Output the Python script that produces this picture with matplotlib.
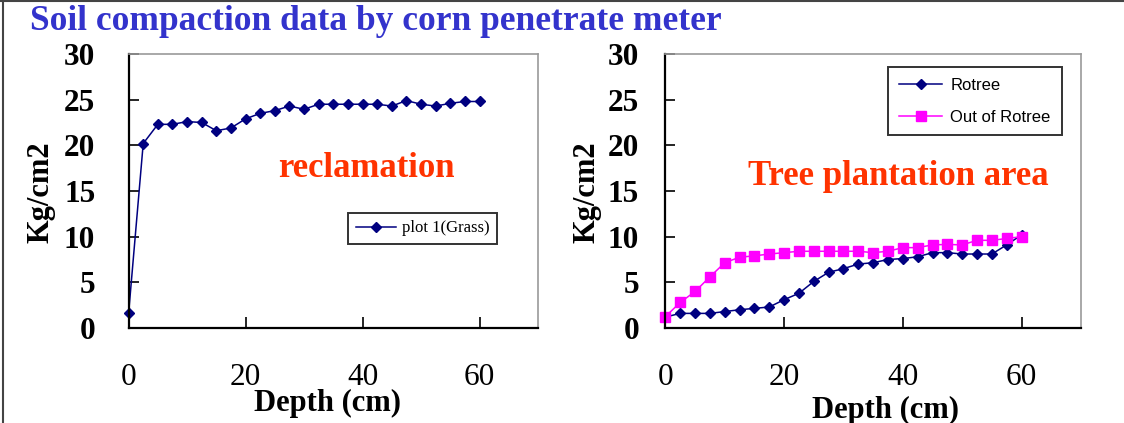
import matplotlib.pyplot as plt
from matplotlib.lines import Line2D

# depth in cm, measured every 2.5 cm
depth = [0, 2.5, 5, 7.5, 10, 12.5, 15, 17.5, 20, 22.5, 25, 27.5, 30,
         32.5, 35, 37.5, 40, 42.5, 45, 47.5, 50, 52.5, 55, 57.5, 60]

grass = [1.6, 20.2, 22.3, 22.3, 22.6, 22.5, 21.6, 21.9, 22.9, 23.5, 23.8, 24.3, 23.95,
         24.5, 24.5, 24.5, 24.5, 24.5, 24.3, 24.9, 24.5, 24.3, 24.6, 24.8, 24.8]

rotree = [1.2, 1.6, 1.6, 1.6, 1.8, 2.0, 2.15, 2.3, 3.1, 3.8, 5.1, 6.1, 6.5,
          7.0, 7.15, 7.5, 7.6, 7.8, 8.25, 8.25, 8.1, 8.1, 8.1, 9.1, 10.2]

out_rotree = [1.25, 2.8, 4.0, 5.6, 7.15, 7.75, 7.9, 8.1, 8.25, 8.4, 8.4, 8.4, 8.4,
              8.4, 8.25, 8.4, 8.8, 8.8, 9.1, 9.15, 9.1, 9.6, 9.6, 9.8, 10.0]

xticks = [0, 20, 40, 60]
yticks = [0, 5, 10, 15, 20, 25, 30]

W, H = 1124, 423
SERIF = 'Liberation Serif'
NAVY = '#000080'
MAGENTA = '#ff00ff'
ORANGE = '#ff3300'


def style_axes(ax, ypad):
    ax.set_xlim(0, 70)
    ax.set_ylim(0, 30)
    ax.set_xticks(xticks)
    ax.set_yticks(yticks)
    for s in ['left', 'bottom']:
        ax.spines[s].set_color('black')
        ax.spines[s].set_linewidth(1.6)
    for s in ['top', 'right']:
        ax.spines[s].set_color('#999999')
        ax.spines[s].set_linewidth(1.2)
    ax.tick_params(axis='x', direction='in', length=8, width=1.2, pad=25,
                   top=False)
    ax.tick_params(axis='y', direction='in', length=7, width=1.2, pad=ypad,
                   right=False)
    for lab in ax.get_xticklabels():
        lab.set_fontfamily(SERIF)
        lab.set_fontsize(22.5)
    for lab in ax.get_yticklabels():
        lab.set_fontfamily(SERIF)
        lab.set_fontsize(22.5)
        lab.set_fontweight('bold')


fig = plt.figure(figsize=(W / 100, H / 100), dpi=100)

ax1 = fig.add_axes([128.6 / W, (H - 328) / H, 409.4 / W, 274 / H])
ax2 = fig.add_axes([665.4 / W, (H - 328) / H, 415.5 / W, 274 / H])

ax1.plot(depth, grass, color=NAVY, lw=1.1, marker='D', ms=5.5,
         label='plot 1(Grass)', clip_on=False)
ax2.plot(depth, rotree, color=NAVY, lw=1.1, marker='D', ms=5.5,
         label='Rotree', clip_on=False)
ax2.plot(depth, out_rotree, color=MAGENTA, lw=1.1, marker='s', ms=6.5,
         label='Out of Rotree', clip_on=False)

style_axes(ax1, 24)
style_axes(ax2, 19)

leg1 = ax1.legend(loc='upper left', bbox_to_anchor=(348 / W, 1 - 213 / H),
                  bbox_transform=fig.transFigure, borderaxespad=0,
                  fancybox=False, edgecolor='black', handlelength=2.4,
                  handletextpad=0.4, borderpad=0.45,
                  prop={'family': SERIF, 'size': 12})
leg1.get_frame().set_linewidth(1.4)

leg2 = ax2.legend(loc='upper left', bbox_to_anchor=(888 / W, 1 - 67 / H),
                  bbox_transform=fig.transFigure, borderaxespad=0,
                  fancybox=False, edgecolor='black', handlelength=2.6,
                  handletextpad=0.5, borderpad=0.65, labelspacing=1.0,
                  prop={'family': 'Liberation Sans', 'size': 12})
leg2.get_frame().set_linewidth(1.4)

# axis labels
fig.text(41 / W, 1 - 192 / H, 'Kg/cm2', rotation=90, ha='center', va='center',
         family=SERIF, weight='bold', size=22)
fig.text(587 / W, 1 - 192 / H, 'Kg/cm2', rotation=90, ha='center', va='center',
         family=SERIF, weight='bold', size=22)
fig.text(328 / W, 1 - 403 / H, 'Depth (cm)', ha='center', va='center',
         family=SERIF, weight='bold', size=22)
fig.text(886 / W, 1 - 410 / H, 'Depth (cm)', ha='center', va='center',
         family=SERIF, weight='bold', size=22)

# panel captions
fig.text(366 / W, 1 - 177 / H, 'reclamation', ha='center', va='baseline',
         family=SERIF, weight='bold', size=25, color=ORANGE)
fig.text(898 / W, 1 - 185 / H, 'Tree plantation area', ha='center', va='baseline',
         family=SERIF, weight='bold', size=25, color=ORANGE)

# title
fig.text(30 / W, 1 - 21 / H, 'Soil compaction data by corn penetrate meter',
         ha='left', va='center', family=SERIF, weight='bold', size=25.5,
         color='#3333cc')

# slide border (top and left edges)
fig.add_artist(Line2D([0, 1], [1 - 1.5 / H, 1 - 1.5 / H], color='#444444', lw=1.5))
fig.add_artist(Line2D([2.5 / W, 2.5 / W], [0, 1], color='#444444', lw=1.5))

fig.savefig('out.png', dpi=100)
